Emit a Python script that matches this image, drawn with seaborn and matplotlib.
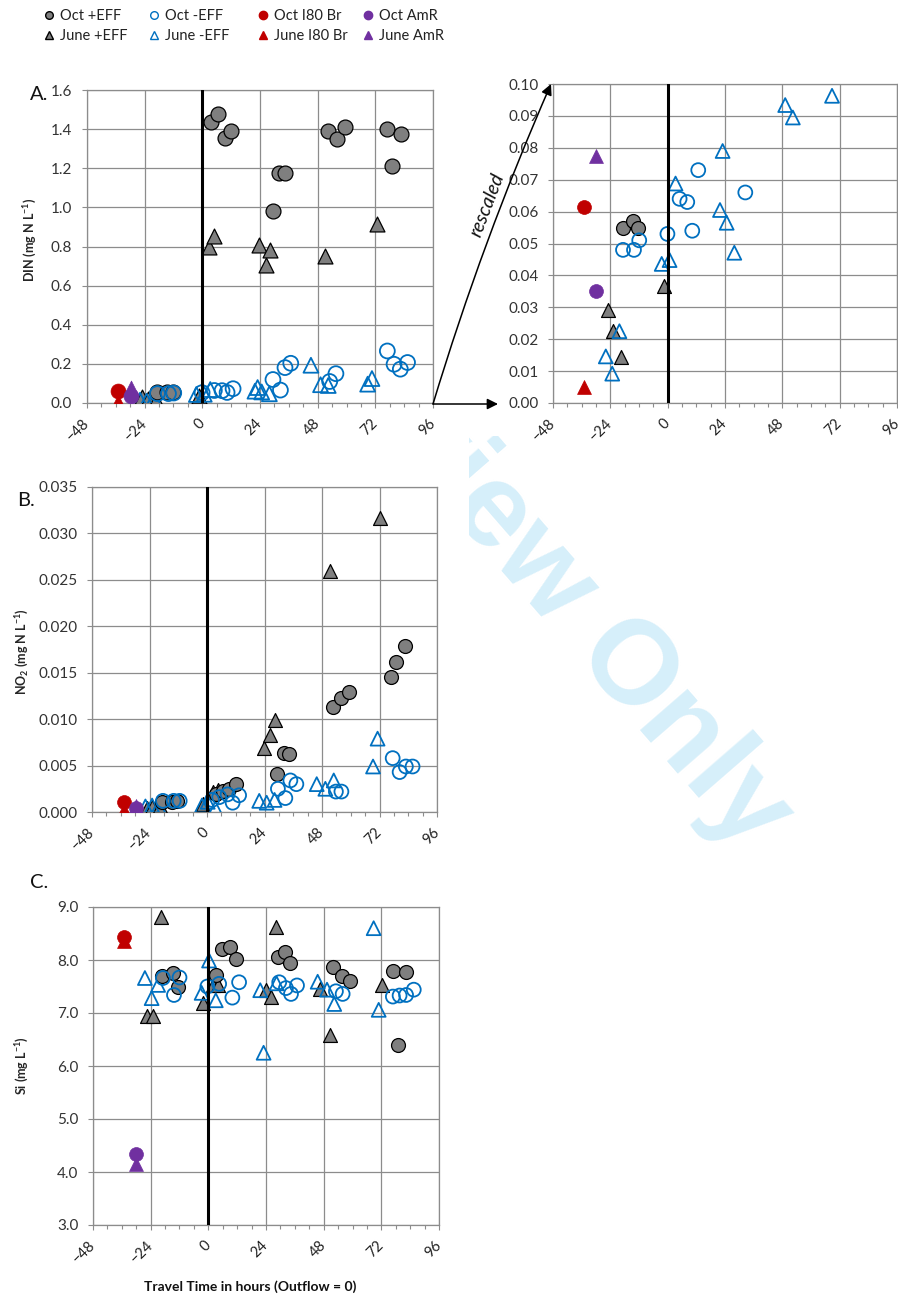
import matplotlib
matplotlib.use("Agg")
import matplotlib.pyplot as plt
import seaborn as sns
from matplotlib.ticker import MultipleLocator, FormatStrFormatter
from matplotlib.lines import Line2D
from matplotlib.patches import FancyArrowPatch
from matplotlib.transforms import Bbox

# ---------------- data ----------------
# DIN (mg N/L)
din_oct_eff_x = [-18.7, -14.5, -12.3, 3.6, 6.7, 9.3, 12.1, 29.4, 31.9, 34.2, 52.5, 56.0, 59.2, 76.9, 79.0, 82.6]
din_oct_eff_y = [0.055, 0.057, 0.055, 1.435, 1.479, 1.356, 1.392, 0.979, 1.177, 1.177, 1.389, 1.351, 1.409, 1.400, 1.211, 1.373]
din_oct_noeff_x = [-18.7, -14.1, -11.9, -0.1, 5.0, 8.2, 10.3, 12.8, 29.4, 32.5, 34.4, 36.8, 53.0, 55.6, 77.0, 79.8, 82.4, 85.4]
din_oct_noeff_y = [0.048, 0.048, 0.051, 0.053, 0.064, 0.063, 0.054, 0.073, 0.120, 0.066, 0.181, 0.203, 0.110, 0.150, 0.266, 0.198, 0.173, 0.207]
din_jun_eff_x = [-25.0, -22.7, -19.4, -1.4, 2.8, 4.7, 23.6, 26.4, 28.3, 51.1, 72.5]
din_jun_eff_y = [0.029, 0.0226, 0.0144, 0.0367, 0.798, 0.856, 0.810, 0.703, 0.781, 0.752, 0.914]
din_jun_noeff_x = [-25.9, -23.2, -20.2, -2.5, 0.8, 3.3, 21.9, 23.0, 24.7, 27.9, 45.2, 49.2, 52.4, 68.8, 70.6]
din_jun_noeff_y = [0.0146, 0.0092, 0.0225, 0.0436, 0.0448, 0.0688, 0.0605, 0.0790, 0.0565, 0.0471, 0.193, 0.0934, 0.0895, 0.0963, 0.125]
din_oct_i80_x, din_oct_i80_y = [-34.9], [0.0615]
din_jun_i80_x, din_jun_i80_y = [-34.9], [0.0050]
din_oct_amr_x, din_oct_amr_y = [-29.8], [0.0350]
din_jun_amr_x, din_jun_amr_y = [-29.8], [0.0774]

# NO2 (mg N/L)
no2_oct_eff_x = [-18.8, -14.6, -12.5, 3.6, 6.7, 9.3, 12.1, 29.2, 32.1, 34.2, 52.4, 56.1, 59.4, 76.9, 79.0, 82.8]
no2_oct_eff_y = [0.0011, 0.0011, 0.0012, 0.0019, 0.0023, 0.0025, 0.0030, 0.0041, 0.0064, 0.0063, 0.0113, 0.0123, 0.0129, 0.0145, 0.0162, 0.0179]
no2_oct_noeff_x = [-18.4, -13.9, -11.4, 2.1, 5.1, 8.6, 10.7, 13.4, 29.6, 32.7, 34.8, 37.3, 53.8, 56.1, 77.5, 80.4, 83.0, 85.8]
no2_oct_noeff_y = [0.0012, 0.0012, 0.0012, 0.0013, 0.0016, 0.0019, 0.0010, 0.0018, 0.0025, 0.0015, 0.0034, 0.0030, 0.0022, 0.0022, 0.0058, 0.0043, 0.0049, 0.0049]
no2_jun_eff_x = [-25.0, -22.8, -19.7, -1.7, 2.5, 4.5, 23.6, 26.3, 28.4, 51.2, 72.3]
no2_jun_eff_y = [0.0004, 0.0005, 0.0006, 0.0009, 0.0022, 0.0024, 0.0069, 0.0083, 0.0099, 0.0260, 0.0317]
no2_jun_noeff_x = [-25.7, -22.9, -20.2, -2.1, 0.3, 3.5, 21.8, 24.9, 28.2, 45.8, 49.4, 52.9, 69.3, 71.2]
no2_jun_noeff_y = [0.0006, 0.0007, 0.0006, 0.0007, 0.0011, 0.0004, 0.0012, 0.0010, 0.0013, 0.0030, 0.0025, 0.0034, 0.0049, 0.0079]
no2_oct_i80_x, no2_oct_i80_y = [-34.5], [0.0011]
no2_jun_i80_x, no2_jun_i80_y = [-34.5], [0.0002]
no2_oct_amr_x, no2_oct_amr_y = [-29.6], [0.0004]
no2_jun_amr_x, no2_jun_amr_y = [-29.6], [0.0006]

# Si (mg/L)
si_oct_eff_x = [-19.2, -14.6, -12.5, 3.1, 5.8, 9.0, 11.5, 28.9, 32.0, 33.9, 51.9, 55.6, 59.1, 76.8, 79.0, 82.3]
si_oct_eff_y = [7.70, 7.75, 7.49, 7.72, 8.21, 8.24, 8.01, 8.05, 8.15, 7.95, 7.86, 7.69, 7.61, 7.80, 6.39, 7.77]
si_oct_noeff_x = [-18.9, -14.3, -12.0, -0.4, 4.5, 10.0, 12.8, 29.5, 32.3, 34.4, 36.9, 53.1, 55.9, 76.8, 79.6, 82.3, 85.5]
si_oct_noeff_y = [7.66, 7.34, 7.67, 7.50, 7.55, 7.29, 7.58, 7.58, 7.47, 7.36, 7.52, 7.41, 7.36, 7.31, 7.33, 7.34, 7.44]
si_jun_eff_x = [-25.7, -22.9, -19.9, -2.1, 1.9, 4.0, 23.8, 26.0, 28.0, 46.5, 50.8, 72.2]
si_jun_eff_y = [6.95, 6.95, 8.82, 7.19, 7.53, 7.52, 7.44, 7.31, 8.62, 7.46, 6.58, 7.52]
si_jun_noeff_x = [-26.4, -23.6, -20.9, -2.8, 0.3, 3.1, 21.6, 23.0, 28.4, 45.5, 49.4, 52.4, 68.8, 70.9]
si_jun_noeff_y = [7.66, 7.28, 7.53, 7.38, 7.99, 7.24, 7.43, 6.25, 7.56, 7.59, 7.44, 7.17, 8.60, 7.06]
si_oct_i80_x, si_oct_i80_y = [-35.2], [8.43]
si_jun_i80_x, si_jun_i80_y = [-35.2], [8.35]
si_oct_amr_x, si_oct_amr_y = [-30.3], [4.34]
si_jun_amr_x, si_jun_amr_y = [-30.3], [4.15]

legend_labels = ["Oct +EFF", "June +EFF", "Oct -EFF", "June -EFF",
                 "Oct I80 Br", "June I80 Br", "Oct AmR", "June AmR"]
x_ticks = [-48, -24, 0, 24, 48, 72, 96]

# ---------------- style ----------------
sns.set_theme(style="white")
plt.rcParams['font.family'] = ['Lato', 'DejaVu Sans']
plt.rcParams['mathtext.fontset'] = 'custom'
plt.rcParams['mathtext.rm'] = 'Lato'
plt.rcParams['mathtext.bf'] = 'Lato:bold'
plt.rcParams['mathtext.it'] = 'Lato:italic'

GREY = '#7f7f7f'
BLUE = '#0070c0'
RED = '#c00000'
PURPLE = '#7030a0'
GRID = '#8c8c8c'
TXT = '#333333'

W, H = 898, 1297
fig = plt.figure(figsize=(W / 100, H / 100), dpi=100)


def ax_at(x0, y0, x1, y1):
    return fig.add_axes([x0 / W, 1 - y1 / H, (x1 - x0) / W, (y1 - y0) / H])


def style_axes(ax, ylim, ystep, yfmt):
    ax.set_xlim(-48, 96)
    ax.set_ylim(*ylim)
    ax.set_xticks(x_ticks)
    ax.xaxis.set_minor_locator(MultipleLocator(6))
    ax.yaxis.set_major_locator(MultipleLocator(ystep))
    ax.yaxis.set_major_formatter(FormatStrFormatter(yfmt))
    ax.grid(True, which='major', color=GRID, lw=0.9)
    ax.set_axisbelow(True)
    for sp in ax.spines.values():
        sp.set_visible(True)
        sp.set_color(GRID)
        sp.set_linewidth(0.9)
    ax.tick_params(axis='x', which='major', direction='out', length=3.6, width=0.8,
                   color=GRID, pad=9.4, labelsize=10.5, labelcolor='#222222', bottom=True)
    ax.tick_params(axis='x', which='minor', direction='out', length=2.8, width=0.8,
                   color=GRID, bottom=True)
    ax.tick_params(axis='y', which='major', direction='out', length=3.6, width=0.8,
                   color=GRID, pad=7, labelsize=11, labelcolor=TXT, left=True)
    for lab in ax.get_xticklabels():
        lab.set_rotation(45)
        lab.set_ha('right')
        lab.set_va('center')
        lab.set_rotation_mode('anchor')
    ax.set_xlabel('')
    ax.set_ylabel('')
    ax.axvline(0, color='black', lw=2.2, zorder=6)


def draw(ax, d, s):
    kw = dict(ax=ax, s=s, legend=False)
    sns.scatterplot(x=d['je'][0], y=d['je'][1], marker='^', color=GREY, edgecolor='black',
                    linewidth=0.9, zorder=3, **kw)
    sns.scatterplot(x=d['jn'][0], y=d['jn'][1], marker='^', color=BLUE, facecolor='none',
                    edgecolor=BLUE, linewidth=1.3, zorder=3, **kw)
    sns.scatterplot(x=d['oe'][0], y=d['oe'][1], marker='o', color=GREY, edgecolor='black',
                    linewidth=0.9, zorder=4, **kw)
    sns.scatterplot(x=d['on'][0], y=d['on'][1], marker='o', color=BLUE, facecolor='none',
                    edgecolor=BLUE, linewidth=1.3, zorder=4, **kw)
    sns.scatterplot(x=d['ji'][0], y=d['ji'][1], marker='^', color=RED, edgecolor=RED,
                    linewidth=0.5, zorder=5, **kw)
    sns.scatterplot(x=d['oi'][0], y=d['oi'][1], marker='o', color=RED, edgecolor=RED,
                    linewidth=0.5, zorder=5, **kw)
    sns.scatterplot(x=d['ja'][0], y=d['ja'][1], marker='^', color=PURPLE, edgecolor=PURPLE,
                    linewidth=0.5, zorder=5, **kw)
    sns.scatterplot(x=d['oa'][0], y=d['oa'][1], marker='o', color=PURPLE, edgecolor=PURPLE,
                    linewidth=0.5, zorder=5, **kw)


din = dict(oe=(din_oct_eff_x, din_oct_eff_y), on=(din_oct_noeff_x, din_oct_noeff_y),
           je=(din_jun_eff_x, din_jun_eff_y), jn=(din_jun_noeff_x, din_jun_noeff_y),
           oi=(din_oct_i80_x, din_oct_i80_y), ji=(din_jun_i80_x, din_jun_i80_y),
           oa=(din_oct_amr_x, din_oct_amr_y), ja=(din_jun_amr_x, din_jun_amr_y))
no2 = dict(oe=(no2_oct_eff_x, no2_oct_eff_y), on=(no2_oct_noeff_x, no2_oct_noeff_y),
           je=(no2_jun_eff_x, no2_jun_eff_y), jn=(no2_jun_noeff_x, no2_jun_noeff_y),
           oi=(no2_oct_i80_x, no2_oct_i80_y), ji=(no2_jun_i80_x, no2_jun_i80_y),
           oa=(no2_oct_amr_x, no2_oct_amr_y), ja=(no2_jun_amr_x, no2_jun_amr_y))
si = dict(oe=(si_oct_eff_x, si_oct_eff_y), on=(si_oct_noeff_x, si_oct_noeff_y),
          je=(si_jun_eff_x, si_jun_eff_y), jn=(si_jun_noeff_x, si_jun_noeff_y),
          oi=(si_oct_i80_x, si_oct_i80_y), ji=(si_jun_i80_x, si_jun_i80_y),
          oa=(si_oct_amr_x, si_oct_amr_y), ja=(si_jun_amr_x, si_jun_amr_y))

# ---------------- watermark ----------------
wm = fig.text(537 / W, 1 - 566 / H, "Review Only", rotation=-49, fontsize=86,
              fontweight='bold', family='Liberation Sans', color='#d6effa',
              ha='center', va='center', rotation_mode='anchor', zorder=0)
wm.set_clip_box(Bbox.from_extents(469, 0, W, H - 436))
wm.set_clip_on(True)

# ---------------- panels ----------------
axA = ax_at(87, 90, 433, 403)
draw(axA, din, 115)
style_axes(axA, (0, 1.6), 0.2, '%.1f')

axA2 = ax_at(553, 84, 897, 403)
draw(axA2, din, 100)
style_axes(axA2, (0, 0.10), 0.01, '%.2f')

axB = ax_at(92, 487, 437, 812)
draw(axB, no2, 100)
style_axes(axB, (0, 0.035), 0.005, '%.3f')

axC = ax_at(93, 907, 439, 1225)
draw(axC, si, 100)
style_axes(axC, (3.0, 9.0), 1.0, '%.1f')

# panel letters and axis titles
fig.text(30 / W, 1 - 95 / H, "A.", fontsize=14.5, ha='left', va='center', color='#111111')
fig.text(17 / W, 1 - 500 / H, "B.", fontsize=14.5, ha='left', va='center', color='#111111')
fig.text(30 / W, 1 - 882 / H, "C.", fontsize=14.5, ha='left', va='center', color='#111111')

fig.text(30 / W, 1 - 240 / H, r"DIN (mg N L$^{\mathbf{-1}}$)", rotation=90, fontsize=9,
         fontweight='bold', ha='center', va='center')
fig.text(22 / W, 1 - 652 / H, r"NO$_{\mathbf{2}}$ (mg N L$^{\mathbf{-1}}$)", rotation=90,
         fontsize=9, fontweight='bold', ha='center', va='center')
fig.text(22 / W, 1 - 1066 / H, r"Si (mg L$^{\mathbf{-1}}$)", rotation=90, fontsize=9,
         fontweight='bold', ha='center', va='center')
fig.text(250 / W, 1 - 1287 / H, "Travel Time in hours (Outflow = 0)", fontsize=10,
         fontweight='bold', ha='center', va='center', color='#111111')

# rescaled arrows
a1 = FancyArrowPatch(posA=(433 / W, 1 - 404 / H), posB=(498 / W, 1 - 404 / H),
                     transform=fig.transFigure, arrowstyle='-|>', mutation_scale=16,
                     lw=1.1, color='black', shrinkA=0, shrinkB=0)
fig.add_artist(a1)
a2 = FancyArrowPatch(posA=(433 / W, 1 - 404 / H), posB=(551 / W, 1 - 84 / H),
                     transform=fig.transFigure, arrowstyle='-|>', mutation_scale=16,
                     lw=1.1, color='black', shrinkA=0, shrinkB=0,
                     connectionstyle='arc3,rad=-0.03')
fig.add_artist(a2)
fig.text(487 / W, 1 - 205 / H, "rescaled", rotation=69, fontsize=14, style='italic',
         ha='center', va='center', color='#111111')

# ---------------- legend (one per column) ----------------
def mk(marker, fc, ec, ms):
    return Line2D([], [], ls='none', marker=marker, markersize=ms, markerfacecolor=fc,
                  markeredgecolor=ec, markeredgewidth=1.0)

handles = [mk('o', GREY, 'black', 5.5), mk('^', GREY, 'black', 5.5),
           mk('o', 'none', BLUE, 5.5), mk('^', 'none', BLUE, 5.5),
           mk('o', RED, RED, 6), mk('^', RED, RED, 6),
           mk('o', PURPLE, PURPLE, 6), mk('^', PURPLE, PURPLE, 6)]
col_x = [49, 154, 263, 368]
for i, cx in enumerate(col_x):
    fig.legend(handles=handles[2 * i:2 * i + 2], labels=legend_labels[2 * i:2 * i + 2],
               loc='center left', bbox_to_anchor=((cx - 6) / W, 1 - 26 / H),
               frameon=False, fontsize=10.5, handlelength=0.85, handletextpad=0.3,
               borderpad=0, borderaxespad=0, labelspacing=0.45, labelcolor='#222222')

fig.savefig("out.png", dpi=100, facecolor='white')
